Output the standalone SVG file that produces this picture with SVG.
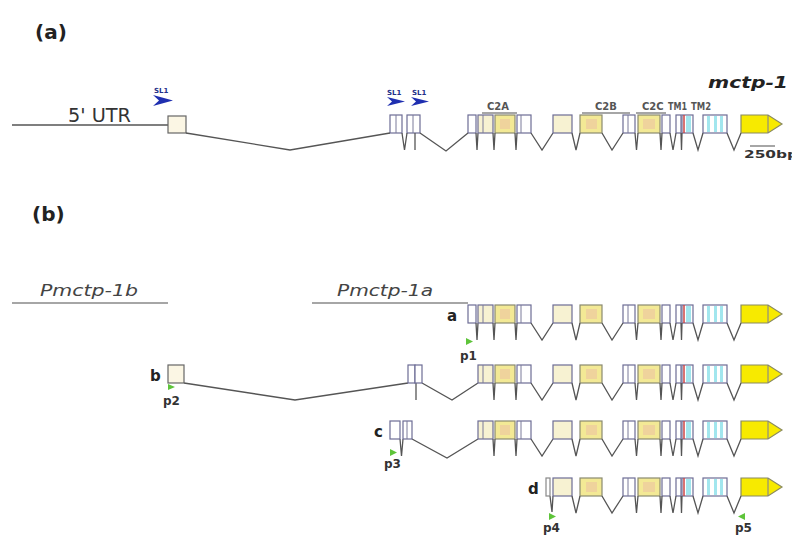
<svg xmlns="http://www.w3.org/2000/svg" xmlns:xlink="http://www.w3.org/1999/xlink" width="792" height="538" viewBox="0 0 792 538">
<style>
text{font-family:"DejaVu Sans","Liberation Sans",sans-serif}
.ex{fill:#fff;stroke:#6d6d95;stroke-width:1.2}
.pl{fill:#f7f2d2}
.yl{fill:#f3e995;stroke:#8a8a70}
.or{fill:#efd39c;stroke:none}
.cy{fill:#a2e6ee;stroke:none}
.rd{stroke:#cc4444;stroke-width:1.5}
.dv{stroke:#7a7a9a;stroke-width:1}
.in{fill:none;stroke:#555;stroke-width:1.3}
.arr{fill:#f7ea00;stroke:#8a8a60;stroke-width:1.2}
.lbl{font-size:10px;font-weight:bold;fill:#555}
.sl{font-size:7px;font-weight:bold;fill:#25308a}
.slh{fill:#1f2fb0}
.pr{fill:#5ec43a}
.pt{font-size:12px;font-weight:bold;fill:#333}
.row{font-size:15px;font-weight:bold;fill:#222}
.prom{font-size:16px;font-style:italic;fill:#444}
.bar{stroke:#888;stroke-width:1.5}
</style>
<defs>
<g id="ex1">
<rect class="ex" x="468" y="0" width="8" height="18"/>
<path class="in" d="M476,18 L477,35 L478,18"/>
</g>
<g id="core">
<rect class="ex pl" x="478" y="0" width="15" height="18"/>
<line class="dv" x1="483" y1="0" x2="483" y2="18"/>
<rect class="ex yl" x="495" y="0" width="20" height="18"/>
<rect class="or" x="500" y="4" width="10" height="10"/>
<rect class="ex" x="517" y="0" width="14" height="18"/>
<line class="dv" x1="521" y1="0" x2="521" y2="18"/>
<path class="in" d="M493,18 L494,35 L495,18 M515,18 L516,35 L517,18 M531,18 L542,35 L553,18"/>
</g>
<g id="tail">
<rect class="ex pl" x="553" y="0" width="19" height="18"/>
<rect class="ex yl" x="580" y="0" width="22" height="18"/>
<rect class="or" x="586" y="4" width="11" height="10"/>
<rect class="ex" x="623" y="0" width="12" height="18"/>
<line class="dv" x1="628" y1="0" x2="628" y2="18"/>
<rect class="ex yl" x="638" y="0" width="22" height="18"/>
<rect class="or" x="643" y="4" width="12" height="10"/>
<rect class="ex" x="662" y="0" width="8" height="18"/>
<rect class="ex" x="676" y="0" width="5" height="18"/>
<rect class="ex" x="682" y="0" width="11" height="18"/>
<rect class="cy" x="686" y="1" width="5" height="16"/>
<line class="rd" x1="684" y1="0" x2="684" y2="18"/>
<rect class="ex" x="703" y="0" width="24" height="18"/>
<rect class="cy" x="707" y="1" width="3" height="16"/>
<rect class="cy" x="714" y="1" width="3" height="16"/>
<rect class="cy" x="720" y="1" width="3" height="16"/>
<path class="arr" d="M741,0 H768 L782,9 L768,18 H741 Z"/>
<line class="dv" x1="768" y1="0" x2="768" y2="18"/>
<path class="in" d="M572,18 L576,35 L580,18 M602,18 L612,35 L623,18 M635,18 L636.5,35 L638,18 M660,18 L661,35 L662,18 M670,18 L673,35 L676,18 M681,18 L681.5,35 L682,18 M693,18 L698,35 L703,18 M727,18 L734,35 L741,18"/>
</g>
</defs>

<g id="panel-a">
<text x="35" y="39" font-size="20" font-weight="bold" fill="#222">(a)</text>
<text x="788" y="88" font-size="16" font-weight="bold" font-style="italic" fill="#222" text-anchor="end" textLength="80" lengthAdjust="spacingAndGlyphs">mctp-1</text>
<text x="68" y="122" font-size="19" fill="#333" textLength="63" lengthAdjust="spacingAndGlyphs">5' UTR</text>
</g>

<g id="sl1-markers">
<text class="sl" x="154" y="93">SL1</text>
<path class="slh" d="M153,95 L173,100.5 L153,106 L159,100.5 Z"/>
<text class="sl" x="387" y="95">SL1</text>
<path class="slh" d="M387,97 L405,101.5 L387,106 L392,101.5 Z"/>
<text class="sl" x="412" y="95">SL1</text>
<path class="slh" d="M411,97 L429,101.5 L411,106 L416,101.5 Z"/>
</g>

<g id="domains">
<text class="lbl" x="487" y="110">C2A</text>
<line class="bar" x1="482" y1="113" x2="517" y2="113"/>
<text class="lbl" x="595" y="110">C2B</text>
<line class="bar" x1="582" y1="113" x2="630" y2="113"/>
<text class="lbl" x="642" y="110">C2C</text>
<line class="bar" x1="636" y1="113" x2="666" y2="113"/>
<text class="lbl" x="668" y="110" textLength="19" lengthAdjust="spacingAndGlyphs">TM1</text>
<text class="lbl" x="691" y="110" textLength="20" lengthAdjust="spacingAndGlyphs">TM2</text>
<line class="bar" x1="750" y1="146" x2="775" y2="146"/>
<text x="744" y="158" font-size="11" font-weight="bold" fill="#333" textLength="54" lengthAdjust="spacingAndGlyphs">250bp</text>
</g>

<g id="gene-a">
<line class="in" x1="12" y1="125" x2="168" y2="125"/>
<rect class="ex" x="168" y="116" width="18" height="17" style="fill:#fbf6e4;stroke:#666"/>
<rect class="ex" x="390" y="115" width="12" height="18"/>
<line class="dv" x1="396" y1="115" x2="396" y2="133"/>
<rect class="ex" x="407" y="115" width="13" height="18"/>
<line class="dv" x1="413" y1="115" x2="413" y2="133"/>
<line class="in" x1="415" y1="133" x2="415" y2="150"/>
<use xlink:href="#ex1" y="115"/>
<use xlink:href="#core" y="115"/>
<use xlink:href="#tail" y="115"/>
</g>

<g id="connectors">
<path class="in" d="M186,133 L290,150 L390,133"/>
<path class="in" d="M402,133 L404.5,150 L407,133"/>
<path class="in" d="M420,133 L446,151 L468,133"/>
<path class="in" d="M184,383 L295,400 L408,383"/>
<path class="in" d="M422,383 L452,400 L478,383"/>
<line class="in" x1="416" y1="383" x2="416" y2="400"/>
<path class="in" d="M400,439 L401.5,456 L403,439"/>
<path class="in" d="M412,439 L447,458 L478,439"/>
<path class="in" d="M550,496 L552,512 L553,496"/>
</g>

<g id="panel-b">
<text x="32" y="221" font-size="20" font-weight="bold" fill="#222">(b)</text>
<text class="prom" x="40" y="296" textLength="98" lengthAdjust="spacingAndGlyphs">Pmctp-1b</text>
<line class="bar" x1="12" y1="303" x2="168" y2="303"/>
<text class="prom" x="337" y="296" textLength="96" lengthAdjust="spacingAndGlyphs">Pmctp-1a</text>
<line class="bar" x1="312" y1="303" x2="468" y2="303"/>
</g>

<g id="isoform-a">
<text class="row" x="447" y="321">a</text>
<use xlink:href="#ex1" y="305"/>
<use xlink:href="#core" y="305"/>
<use xlink:href="#tail" y="305"/>
</g>

<g id="isoform-b">
<text class="row" x="150" y="381">b</text>
<rect class="ex" x="168" y="365" width="16" height="18" style="fill:#fbf6e4;stroke:#666"/>
<rect class="ex" x="408" y="365" width="7" height="18"/>
<rect class="ex" x="415" y="365" width="7" height="18"/>
<use xlink:href="#core" y="365"/>
<use xlink:href="#tail" y="365"/>
</g>

<g id="isoform-c">
<text class="row" x="374" y="437">c</text>
<rect class="ex" x="390" y="421" width="10" height="18"/>
<rect class="ex" x="403" y="421" width="9" height="18"/>
<line class="dv" x1="407" y1="421" x2="407" y2="439"/>
<use xlink:href="#core" y="421"/>
<use xlink:href="#tail" y="421"/>
</g>

<g id="isoform-d">
<text class="row" x="528" y="494">d</text>
<rect class="ex" x="546" y="478" width="4" height="18" style="stroke:#888"/>
<use xlink:href="#tail" y="478"/>
</g>

<g id="primers">
<path class="pr" d="M466,338 L473,341.5 L466,345 Z"/>
<text class="pt" x="460" y="360">p1</text>
<path class="pr" d="M168,384 L175,387 L168,390 Z"/>
<text class="pt" x="163" y="405">p2</text>
<path class="pr" d="M390,449 L397,452.5 L390,456 Z"/>
<text class="pt" x="384" y="468">p3</text>
<path class="pr" d="M549,513 L556,516.5 L549,520 Z"/>
<text class="pt" x="543" y="532">p4</text>
<path class="pr" d="M745,513 L738,516.5 L745,520 Z"/>
<text class="pt" x="735" y="532">p5</text>
</g>
</svg>
